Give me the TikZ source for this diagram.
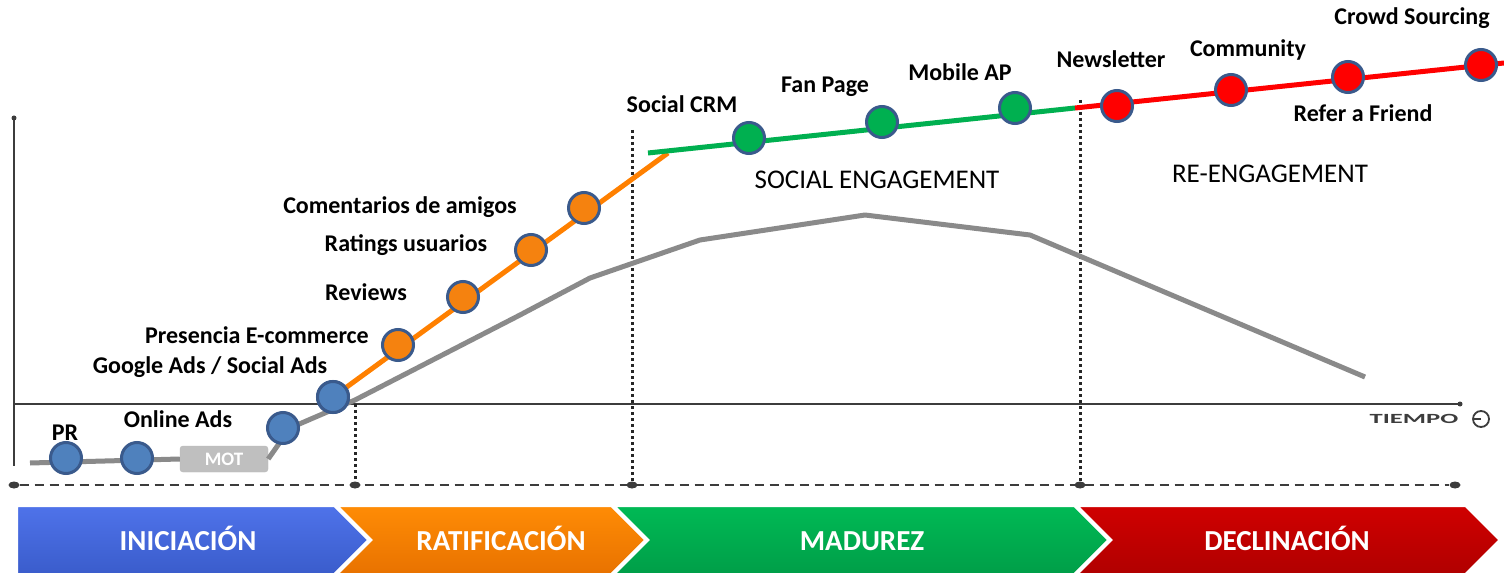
\documentclass[tikz,border=0pt]{standalone}
\usepackage{fontspec}
\setmainfont{Carlito}
\definecolor{dotblue}{HTML}{4F81BD}
\definecolor{dotedge}{HTML}{3A5A8C}
\definecolor{dotorange}{HTML}{F5820F}
\definecolor{dotgreen}{HTML}{00B050}
\definecolor{dotred}{HTML}{FF0000}
\definecolor{curvegray}{HTML}{8A8A8A}
\definecolor{axisgray}{HTML}{3C3C3C}
\definecolor{linegreen}{HTML}{00B050}
\definecolor{lineorange}{HTML}{FF8000}
\definecolor{linered}{HTML}{FF0000}
\definecolor{bluetop}{HTML}{4F73EA}
\definecolor{bluebot}{HTML}{3A5CCB}
\definecolor{orangetop}{HTML}{FF8C05}
\definecolor{orangebot}{HTML}{E87200}
\definecolor{greentop}{HTML}{00BA55}
\definecolor{greenbot}{HTML}{009E48}
\definecolor{redtop}{HTML}{D00000}
\definecolor{redbot}{HTML}{B00000}
\tikzset{
  stage/.style={circle, minimum size=31pt, inner sep=0pt, draw=dotedge, line width=3pt},
  bluedot/.style={stage, fill=dotblue},
  orangedot/.style={stage, fill=dotorange},
  greendot/.style={stage, fill=dotgreen},
  reddot/.style={stage, fill=dotred},
  tag/.style={font=\bfseries\fontsize{24}{26}\selectfont, inner sep=0pt, text=black},
  phase/.style={font=\fontsize{27}{29}\selectfont, inner sep=0pt},
  banner/.style={draw=white, line width=4pt, line join=miter},
  bannertext/.style={font=\bfseries\fontsize{29}{31}\selectfont, text=white, inner sep=0pt, anchor=base},
  trend/.style={line width=5pt},
  vdots/.style={black!85, line width=3pt, dash pattern=on 3pt off 3pt},
  axisend/.style={ellipse, fill=axisgray, minimum width=11pt, minimum height=7pt, inner sep=0pt},
}
\usetikzlibrary{shapes.geometric}
\begin{document}
\begin{tikzpicture}[x=1pt,y=-1pt]
\useasboundingbox[fill=white] (0,0) rectangle (1504,577);

% axes
\coordinate (ytop) at (14,118);
\coordinate (ybot) at (14,466);
\coordinate (xl) at (14,404);
\coordinate (xr) at (1460,404);
\draw[axisgray, line width=2.5pt] (ytop) -- (ybot);
\fill[axisgray] (ytop) circle (2.5pt);
\draw[axisgray, line width=2pt] (xl) -- (xr);
\fill[axisgray] (xr) circle (2.5pt);
\node[font=\bfseries\fontsize{14}{14}\selectfont, text=axisgray, xscale=1.9, inner sep=0pt] (tiempo) at (1414,419) {TIEMPO};
\node[circle, draw=axisgray, line width=1.8pt, minimum size=16pt, inner sep=0pt] (clock) at (1481,419) {};
\draw[axisgray, line width=1.8pt] (clock.center) -- ([xshift=2pt]clock.west);

% time line with phase boundaries
\node[axisend] (t0) at (14,485) {};
\node[axisend] (t1) at (355,485) {};
\node[axisend] (t2) at (632,485) {};
\node[axisend] (t3) at (1080,485) {};
\node[axisend] (t4) at (1455,485) {};
\draw[axisgray, line width=2pt, dash pattern=on 9pt off 6pt] (t0) -- (t4);
\coordinate (v1) at (355,404);
\coordinate (v2) at (632,130);
\coordinate (v3) at (1080,100);
\draw[vdots] (v1) -- (t1);
\draw[vdots] (v2) -- (t2);
\draw[vdots] (v3) -- (t3);

% product life cycle curve
\node[draw=curvegray!60, fill=curvegray!55, rounded corners=3pt, minimum width=88pt, minimum height=26pt, inner sep=0pt,
      font=\bfseries\fontsize{19}{19}\selectfont, text=white] (mot) at (224,459) {MOT};
\coordinate (c0) at (30,463);
\draw[curvegray, trend] (c0) -- (mot.west);
\draw[curvegray, trend, line join=round] (mot.east) -- (290,428) -- (355,400) -- (520,315) -- (590,278)
   -- (700,240) -- (865,215) -- (1030,235) -- (1365,377);

% engagement tracks
\coordinate (oend) at (668,153);
\coordinate (gstart) at (648,153);
\coordinate (gend) at (1075,108);
\coordinate (rend) at (1504,63);
\node[bluedot] (p4) at (333,397) {};
\draw[lineorange, trend] (p4.center) -- (oend);
\draw[linegreen, trend] (gstart) -- (gend);
\draw[linered, trend] (gend) -- (rend);

\node[bluedot] (p1) at (66,458) {};
\node[bluedot] (p2) at (137,458) {};
\node[bluedot] (p3) at (283,428) {};
\node[bluedot] (p4b) at (333,397) {};
\node[orangedot] (o1) at (398,345) {};
\node[orangedot] (o2) at (463,297) {};
\node[orangedot] (o3) at (531,250) {};
\node[orangedot] (o4) at (584,208) {};
\node[greendot] (g1) at (749,138) {};
\node[greendot] (g2) at (882,122) {};
\node[greendot] (g3) at (1015,108) {};
\node[reddot] (r1) at (1117,106) {};
\node[reddot] (r2) at (1231,90) {};
\node[reddot] (r3) at (1348,77) {};
\node[reddot] (r4) at (1481,65) {};

% labels
\node[tag] (lpr) at (65,433) {PR};
\node[tag] (lonline) at (178,419) {Online Ads};
\node[tag] (lgoogle) at (210,367) {Google Ads / Social Ads};
\node[tag] (lpres) at (257,335) {Presencia E-commerce};
\node[tag] (lrev) at (366,292) {Reviews};
\node[tag] (lrat) at (406,245) {Ratings usuarios};
\node[tag] (lcom) at (400,207) {Comentarios de amigos};
\node[tag] (lcrm) at (682,104) {Social CRM};
\node[tag] (lfan) at (825,87) {Fan Page};
\node[tag] (lmob) at (960,72) {Mobile AP};
\node[tag] (lnews) at (1111,59) {Newsletter};
\node[tag] (lcomm) at (1248,50) {Community};
\node[tag] (lcrowd) at (1412,18) {Crowd Sourcing};
\node[tag] (lref) at (1363,113) {Refer a Friend};
\node[phase] (social) at (877,180) {SOCIAL ENGAGEMENT};
\node[phase] (reeng) at (1270,174) {RE-ENGAGEMENT};

% phase banners
\path[banner, top color=bluetop, bottom color=bluebot]
  (16,505) -- (335,505) -- (370,540) -- (335,575) -- (16,575) -- cycle;
\path[banner, top color=orangetop, bottom color=orangebot]
  (335,505) -- (612,505) -- (647,540) -- (612,575) -- (335,575) -- (370,540) -- cycle;
\path[banner, top color=greentop, bottom color=greenbot]
  (612,505) -- (1075,505) -- (1110,540) -- (1075,575) -- (612,575) -- (647,540) -- cycle;
\path[banner, top color=redtop, bottom color=redbot]
  (1075,505) -- (1466,505) -- (1501,540) -- (1466,575) -- (1075,575) -- (1110,540) -- cycle;
\node[bannertext] (b1) at (188,550) {INICIACIÓN};
\node[bannertext] (b2) at (501,550) {RATIFICACIÓN};
\node[bannertext] (b3) at (862,550) {MADUREZ};
\node[bannertext] (b4) at (1287,550) {DECLINACIÓN};
\end{tikzpicture}
\end{document}
